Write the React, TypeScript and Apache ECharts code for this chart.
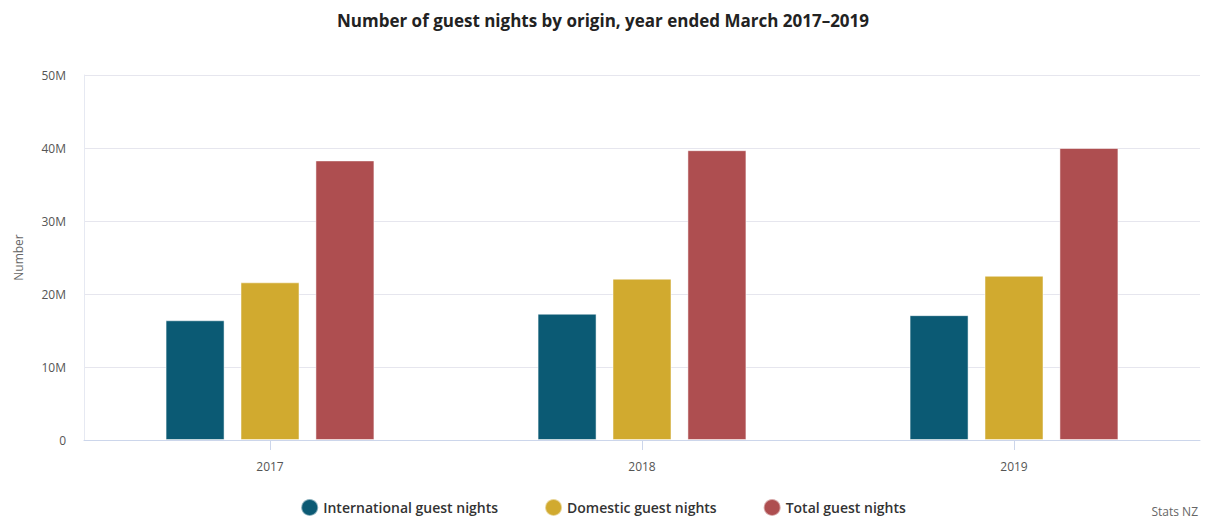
import React, { useEffect, useRef } from "react";
import * as echarts from "echarts";

const categories = ["2017", "2018", "2019"];
const international = [16.4, 17.3, 17.1];
const domestic = [21.6, 22.1, 22.5];
const total = [38.3, 39.7, 40.0];
const yTicks = [0, 10, 20, 30, 40, 50];

const FONT = "'Open Sans', Lato, sans-serif";

export default function App() {
  const ref = useRef<HTMLDivElement>(null);
  useEffect(() => {
    if (!ref.current) return;
    const chart = echarts.init(ref.current, undefined, { renderer: "svg" });
    const mk = (name: string, data: number[], color: string) => ({
      name,
      type: "bar",
      data: data.map((v) => v * 1e6),
      barWidth: 59,
      barGap: "27%",
      itemStyle: { color, borderColor: "rgba(255,255,255,0.5)", borderWidth: 1 },
    });
    chart.setOption({
      animation: false,
      textStyle: { fontFamily: FONT },
      title: {
        text: "Number of guest nights by origin, year ended March 2017–2019",
        left: "center",
        top: 7,
        textStyle: { fontSize: 17, fontWeight: "bold", color: "#222", fontFamily: FONT },
      },
      legend: {
        top: 496,
        padding: [2, 5],
        left: "center",
        itemGap: 46,
        icon: "circle",
        itemWidth: 17,
        itemHeight: 17,
        textStyle: { fontSize: 14, fontWeight: 600, color: "#333", fontFamily: FONT },
        data: ["International guest nights", "Domestic guest nights", "Total guest nights"],
      },
      graphic: [
        {
          type: "text",
          right: 8,
          top: 505,
          style: { text: "Stats NZ", fontSize: 12, fill: "#666", fontFamily: FONT },
        },
      ],
      grid: { left: 84, right: 6, top: 75, bottom: 80 },
      xAxis: {
        type: "category",
        data: categories,
        axisLine: { lineStyle: { color: "#ccd6eb" } },
        axisTick: { show: true, alignWithLabel: true, length: 10, lineStyle: { color: "#ccd6eb" } },
        axisLabel: { color: "#555", fontSize: 12, margin: 20 },
      },
      yAxis: {
        type: "value",
        min: 0,
        max: 50e6,
        interval: 10e6,
        name: "Number",
        nameLocation: "middle",
        nameGap: 60,
        nameTextStyle: { color: "#666", fontSize: 12 },
        axisLine: { show: true, lineStyle: { color: "#e6e9f2" } },
        axisTick: { show: false },
        splitLine: { lineStyle: { color: "#e6e6ee" } },
        axisLabel: {
          color: "#555",
          fontSize: 12,
          margin: 18,
          formatter: (v: number) => {
            const m = v / 1e6;
            return yTicks.includes(m) && m !== 0 ? m + "M" : "0";
          },
        },
      },
      series: [
        mk("International guest nights", international, "#0b5a74"),
        mk("Domestic guest nights", domestic, "#d1aa2f"),
        mk("Total guest nights", total, "#ae4e50"),
      ],
    });
    return () => chart.dispose();
  }, []);
  return (
    <div
      ref={ref}
      style={{ position: "absolute", left: 0, top: 0, width: 1206, height: 520 }}
    />
  );
}
